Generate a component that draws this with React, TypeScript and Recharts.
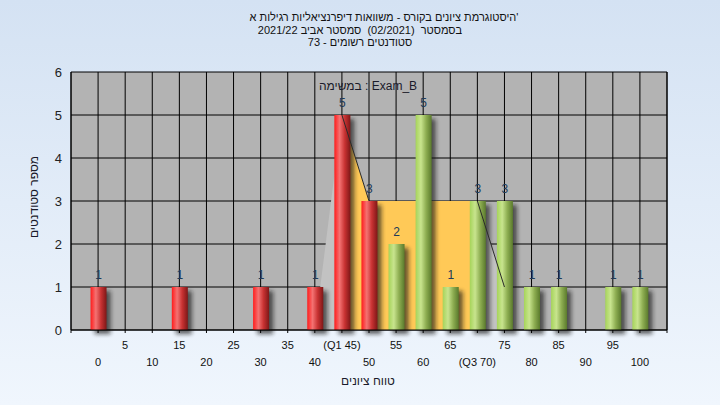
import {
  Area,
  Bar,
  CartesianGrid,
  ComposedChart,
  LabelList,
  Line,
  XAxis,
  YAxis,
} from "recharts";

// grade bins (lower bound of each 5-point range)
const bins = [0, 5, 10, 15, 20, 25, 30, 35, 40, 45, 50, 55, 60, 65, 70, 75, 80, 85, 90, 95, 100];
const counts = [1, 0, 0, 1, 0, 0, 1, 0, 1, 5, 3, 2, 5, 1, 3, 3, 1, 1, 0, 1, 1];

// light grey spread shape and the yellow Q1..Q3 band behind the bars
const spread = [null, null, null, null, null, null, null, null, 0, 5, 3, 3, 3, 3, 3, 1, null, null, null, null, null];
const iqrBand = [null, null, null, null, null, null, null, null, null, 5, 3, 3, 3, 3, 3, null, null, null, null, null, null];
const edgeLine = [null, null, null, null, null, null, null, null, null, 5, 3, null, null, null, 3, 1, null, null, null, null, null];

const q1 = 45;
const q3 = 70;
const passFrom = 55;

const xTicks = [-5, ...bins, 105];
const yTicks = [0, 1, 2, 3, 4, 5, 6];

const titleLines = [
  "היסטוגרמת ציונים בקורס - משוואות דיפרנציאליות רגילות א'",
  "בסמסטר  (02/2021)  סמסטר אביב 2021/22",
  "סטודנטים רשומים - 73",
];

const data = bins.map((x, i) => ({
  x,
  count: counts[i],
  spread: spread[i],
  iqr: iqrBand[i],
  edge: edgeLine[i],
}));

const font = "'Liberation Sans', Arial, sans-serif";

const CylinderBar = (props: any) => {
  const { x, y, width, height, payload } = props;
  if (!height || height <= 0) return <g />;
  const grad = payload.x < passFrom ? "cylRed" : "cylGreen";
  return (
    <g>
      <rect
        x={x + 4}
        y={y + 4}
        width={width}
        height={height}
        fill="#151515"
        opacity={0.65}
        filter="url(#barShadow)"
      />
      <rect x={x} y={y} width={width} height={height} fill={`url(#${grad})`} />
    </g>
  );
};

const renderValue = (props: any) => {
  const { x, y, width, value } = props;
  if (!value) return <g />;
  return (
    <text
      x={x + width / 2}
      y={y - 8}
      textAnchor="middle"
      fontSize={12}
      fontFamily={font}
      fill="#203a58"
    >
      {value}
    </text>
  );
};

const XTick = (props: any) => {
  const { x, y, payload } = props;
  const v = payload.value;
  if (v < 0 || v > 100) return <g />;
  const lower = v % 10 === 0;
  const text = v === q1 ? `(Q1 ${v})` : v === q3 ? `(Q3 ${v})` : String(v);
  return (
    <text
      x={x}
      y={y + (lower ? 31 : 14)}
      textAnchor="middle"
      fontSize={11}
      fontFamily={font}
      fill="#111"
    >
      {text}
    </text>
  );
};

export default function App() {
  return (
    <div
      style={{
        position: "absolute",
        left: 0,
        top: 0,
        width: 720,
        height: 405,
        background: "linear-gradient(180deg, #d4e2f3 0%, #f0f6fd 100%)",
        fontFamily: font,
        overflow: "hidden",
      }}
    >
      <svg width={0} height={0} style={{ position: "absolute" }}>
        <defs>
          <linearGradient id="cylRed" x1="0" y1="0" x2="1" y2="0">
            <stop offset="0%" stopColor="#ff1c1c" />
            <stop offset="33%" stopColor="#f47272" />
            <stop offset="65%" stopColor="#c83232" />
            <stop offset="100%" stopColor="#7e1717" />
          </linearGradient>
          <linearGradient id="cylGreen" x1="0" y1="0" x2="1" y2="0">
            <stop offset="0%" stopColor="#a6d45a" />
            <stop offset="33%" stopColor="#c8e48e" />
            <stop offset="65%" stopColor="#8eae52" />
            <stop offset="100%" stopColor="#5a7a2c" />
          </linearGradient>
          <filter id="barShadow" x="-50%" y="-50%" width="200%" height="200%">
            <feGaussianBlur stdDeviation="2" />
          </filter>
        </defs>
      </svg>

      <div style={{ position: "absolute", top: 11, left: 0, width: 720, fontSize: 11, color: "#111", lineHeight: "12.5px" }}>
        {titleLines.map((line, li) => (
          <div
            key={li}
            dir="ltr"
            style={{ textAlign: "center", whiteSpace: "pre", paddingLeft: li === 0 ? 48 : 0 }}
          >
            {line}
          </div>
        ))}
      </div>

      <ComposedChart
        width={720}
        height={405}
        data={data}
        margin={{ top: 72, right: 0, bottom: 0, left: 0 }}
        style={{ position: "absolute", left: 0, top: 0 }}
      >
        <CartesianGrid
          yAxisId="left"
          stroke="#000"
          strokeOpacity={1}
          fill="#b3b3b3"
          fillOpacity={1}
        />
        <XAxis
          dataKey="x"
          type="number"
          domain={[-5, 105]}
          ticks={xTicks}
          interval={0}
          height={75}
          axisLine={{ stroke: "#000" }}
          tickLine={{ stroke: "#000" }}
          tickSize={3}
          tickMargin={2}
          tick={<XTick />}
          label={{
            content: () => (
              <text x={368} y={385} textAnchor="middle" fontSize={12} fontFamily={font} fill="#1a1a2a">
                טווח ציונים
              </text>
            ),
          }}
        />
        <YAxis
          yAxisId="left"
          orientation="left"
          domain={[0, 6]}
          ticks={yTicks}
          width={71}
          axisLine={{ stroke: "#000" }}
          tickLine={false}
          tickSize={6}
          tickMargin={3}
          tick={{ fill: "#222", fontSize: 13, fontFamily: font }}
          label={{
            content: () => (
              <text
                x={38}
                y={197}
                transform="rotate(-90 38 197)"
                textAnchor="middle"
                fontSize={12}
                fontFamily={font}
                fill="#1a1a2a"
              >
                מספר סטודנטים
              </text>
            ),
          }}
        />
        <YAxis
          yAxisId="right"
          orientation="right"
          domain={[0, 6]}
          ticks={yTicks}
          width={53}
          axisLine={{ stroke: "#000" }}
          tickLine={{ stroke: "#000" }}
          tickSize={6}
          tickMargin={3}
          tick={{ fill: "#222", fontSize: 13, fontFamily: font }}
        />
        <Area
          yAxisId="left"
          type="linear"
          dataKey="spread"
          stroke="none"
          fill="#c2c2c2"
          fillOpacity={1}
          isAnimationActive={false}
        />
        <Area
          yAxisId="left"
          type="linear"
          dataKey="iqr"
          stroke="none"
          fill="#ffc957"
          fillOpacity={1}
          isAnimationActive={false}
        />
        <Line
          yAxisId="left"
          type="linear"
          dataKey="edge"
          stroke="#2a2a2a"
          strokeWidth={1}
          dot={false}
          isAnimationActive={false}
        />
        <Bar
          yAxisId="left"
          dataKey="count"
          barSize={16}
          shape={<CylinderBar />}
          isAnimationActive={false}
        >
          <LabelList dataKey="count" content={renderValue} />
        </Bar>
        <text x={368} y={90} textAnchor="middle" fontSize={12} fontFamily={font} fill="#1a1a2a">
          במשימה : Exam_B
        </text>
      </ComposedChart>
    </div>
  );
}
